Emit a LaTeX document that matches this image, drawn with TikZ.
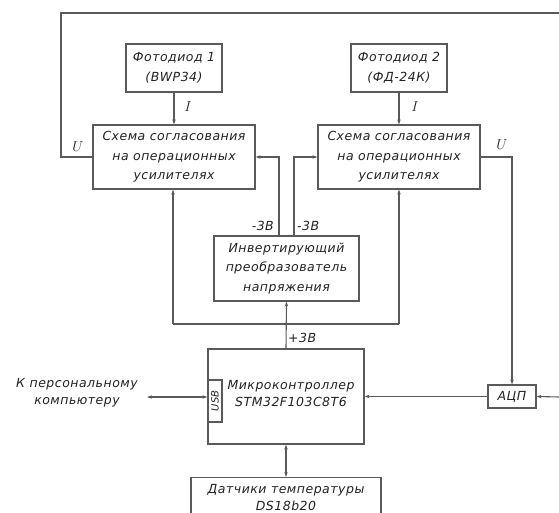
\documentclass[tikz,border=0pt]{standalone}
\usepackage{fontspec}
\setmainfont{DejaVu Sans}
\usetikzlibrary{arrows.meta}
\definecolor{ln}{HTML}{5A5A5A}
\definecolor{tx}{HTML}{222222}
\newcommand{\gfont}[2]{\fontsize{#1}{#2}\selectfont\itshape\addfontfeature{LetterSpace=4}}
\tikzset{
  x=1pt,y=-1pt,
  blk/.style={draw=ln,line width=1.1pt,minimum width=#1,inner sep=0pt,align=center,text=tx,font=\gfont{12.5}{19.5}},
  wire/.style={draw=ln,line width=1.1pt},
  arr/.style={wire,-{Stealth[length=5pt,width=3.4pt]}},
  darr/.style={wire,{Stealth[length=5pt,width=3.4pt]}-{Stealth[length=5pt,width=3.4pt]}},
  lbl/.style={inner sep=0pt,text=tx,font=\gfont{12.5}{17}},
}
\begin{document}
\begin{tikzpicture}
\useasboundingbox (0,0) rectangle (559,513);
\node[blk=96pt,minimum height=48pt] (pd1) at (174,68) {Фотодиод 1\\(BWP34)};
\node[blk=162pt,minimum height=64pt] (amp1) at (174,157) {Схема согласования\\на операционных\\усилителях};
\node[blk=96pt,minimum height=48pt] (pd2) at (399,68) {Фотодиод 2\\(ФД-24К)};
\node[blk=162pt,minimum height=64pt] (amp2) at (399,157) {Схема согласования\\на операционных\\усилителях};
\node[blk=145pt,minimum height=65pt] (inv) at (286.5,268.5) {Инвертирующий\\преобразователь\\напряжения};
\node[blk=156pt,minimum height=95pt] (mcu) at (286,396.5) {};
\node[lbl,align=center] (mcut) at (291,394) {Микроконтроллер\\STM32F103C8T6};
\node[draw=ln,line width=1.1pt,minimum width=14pt,minimum height=42pt,inner sep=0pt,anchor=west] (usb) at (mcu.west|-0,401) {};
\node[inner sep=0pt,rotate=90,text=tx,font=\gfont{10}{10}] (usbt) at (usb.center) {USB};
\node[blk=48pt,minimum height=23pt] (adc) at (512,396.5) {АЦП};
\node[draw=ln,line width=1.1pt,minimum width=190pt,minimum height=46pt,inner sep=0pt,anchor=north] (temp) at (286,477) {};
\node[lbl,align=center] (tempt) at (286,498) {Датчики температуры\\DS18b20};
\node[lbl,align=center] (pc) at (77,393) {К персональному\\компьютеру};
\coordinate (pcend) at (147,397);
\coordinate (tl) at (61,13);
\coordinate (tr) at (559,13);
\coordinate (rin) at (559,397);
\coordinate (ja) at (279,236);
\coordinate (jb) at (294,236);
\coordinate (bl) at (173,324);
\coordinate (br) at (399,324);
% connectors
\draw[arr] (pd1) -- (amp1);
\draw[arr] (pd2) -- (amp2);
\draw[wire] (amp1.west) -| (tl) -- (tr);
\draw[arr] (ja) |- (amp1.east);
\draw[arr] (jb) |- (amp2.west);
\draw[arr] (mcu.north) -- (inv.south);
\draw[arr] (bl) -- (amp1.south-|bl);
\draw[arr] (br) -- (amp2.south-|br);
\draw[wire] (bl) -- (br);
\draw[arr] (amp2.east) -| (adc.north);
\draw[arr] (rin) -- (adc.east);
\draw[arr] (adc.west) -- (mcu.east|-adc.west);
\draw[darr] (pcend) -- (usb.west|-pcend);
\draw[darr] (mcu.south) -- (temp.north);
% labels
\node[lbl,font=\fontsize{14}{14}\selectfont] (i1) at (188,107) {$I$};
\node[lbl,font=\fontsize{14}{14}\selectfont] (i2) at (415,107) {$I$};
\node[lbl,font=\fontsize{14}{14}\selectfont] (u1) at (78,147) {$U$};
\node[lbl,font=\fontsize{14}{14}\selectfont] (u2) at (502,145) {$U$};
\node[lbl,anchor=east] (m1) at (274,226) {-3В};
\node[lbl,anchor=west] (m2) at (297,226) {-3В};
\node[lbl,anchor=west] (p3) at (288,338) {+3В};
\end{tikzpicture}
\end{document}
